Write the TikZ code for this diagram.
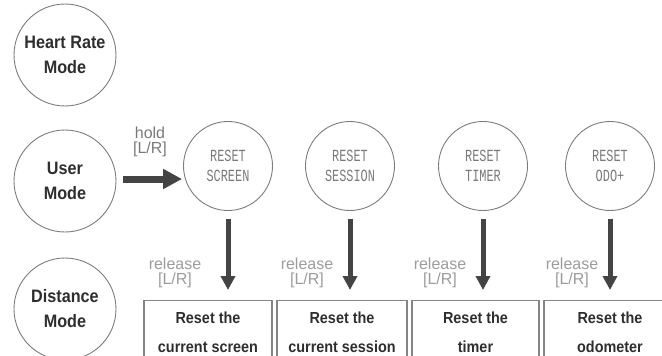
\documentclass[tikz,border=0pt]{standalone}
\usepackage{fontspec}
\setmainfont{Liberation Sans}
\newfontfamily\condfont{Liberation Sans}[FakeStretch=0.9]
\newfontfamily\lcdfont{Liberation Mono}[FakeStretch=0.7]
\usetikzlibrary{arrows.meta}

\definecolor{ringgray}{HTML}{7C7C7C}
\definecolor{boxgray}{HTML}{858585}
\definecolor{arrowgray}{HTML}{444444}
\definecolor{holdgray}{HTML}{7A7A7A}
\definecolor{cuegray}{HTML}{9C9C9C}
\definecolor{lcdgray}{HTML}{7A7A7A}
\definecolor{textdark}{HTML}{2E2E2E}

\tikzset{
  mode/.style={circle, draw=ringgray, line width=0.9pt, minimum size=102pt,
    inner sep=0pt, align=center, text=textdark,
    font=\condfont\bfseries\fontsize{18}{25}\selectfont},
  resetring/.style={circle, draw=ringgray, line width=0.9pt, minimum size=89pt,
    inner sep=0pt, align=center, text=lcdgray,
    font=\lcdfont\fontsize{17}{20}\selectfont},
  actbox/.style={draw=boxgray, line width=1.2pt, minimum height=90pt,
    anchor=north, inner sep=0pt},
  acttext/.style={align=center, text=textdark, inner sep=0pt,
    font=\condfont\bfseries\fontsize{16}{29}\selectfont},
  cue/.style={align=center, inner sep=0pt,
    font=\fontsize{16}{15}\selectfont},
  holdarrow/.style={draw=arrowgray, line width=7pt,
    -{Triangle[length=19pt,width=19pt]}},
  downarrow/.style={draw=arrowgray, line width=5pt,
    -{Triangle[length=14pt,width=14pt]}, shorten <=8pt, shorten >=10pt},
}

\begin{document}
\begin{tikzpicture}[x=1pt, y=-1pt]
  \useasboundingbox (0,0) rectangle (662,356);
  \clip (0,0) rectangle (662,356);

  % mode circles on the left
  \node[mode] (heart) at (65,55)  {Heart Rate\\Mode};
  \node[mode] (user)  at (65,181) {User\\Mode};
  \node[mode] (dist)  at (65,309) {Distance\\Mode};

  % reset screens
  \node[resetring] (screen)  at (228,166) {RESET\\SCREEN};
  \node[resetring] (session) at (350,166) {RESET\\SESSION};
  \node[resetring] (timer)   at (483,166) {RESET\\TIMER};
  \node[resetring] (odo)     at (610,166) {RESET\\ODO+};

  % action boxes along the bottom
  \node[actbox, minimum width=128pt] (b1) at (208,300) {};
  \node[actbox, minimum width=130pt] (b2) at (342,300) {};
  \node[actbox, minimum width=127pt] (b3) at (475.5,300) {};
  \node[actbox, minimum width=132pt] (b4) at (610,300) {};

  \node[acttext] (t1) at (208,332)   {Reset the\\current screen};
  \node[acttext] (t2) at (342,332)   {Reset the\\current session};
  \node[acttext] (t3) at (475.5,332) {Reset the\\timer};
  \node[acttext] (t4) at (610,332)   {Reset the\\odometer};

  % hold to enter the reset menu
  \coordinate (h0) at ([xshift=7pt,yshift=2pt]user.east);
  \draw[holdarrow] (h0) -- ([xshift=-1pt]h0 -| screen.west);
  \node[cue, text=holdgray] (hold) at (150,142) {hold\\[0pt][L/R]};

  % release to confirm
  \foreach \r/\b in {screen/b1, session/b2, timer/b3, odo/b4}
    \draw[downarrow] (\r.south) -- (\r.south |- \b.north);

  \node[cue, text=cuegray] (c1) at (175,273) {release\\[0pt][L/R]};
  \node[cue, text=cuegray] (c2) at (307,273) {release\\[0pt][L/R]};
  \node[cue, text=cuegray] (c3) at (440,273) {release\\[0pt][L/R]};
  \node[cue, text=cuegray] (c4) at (572,273) {release\\[0pt][L/R]};
\end{tikzpicture}
\end{document}
